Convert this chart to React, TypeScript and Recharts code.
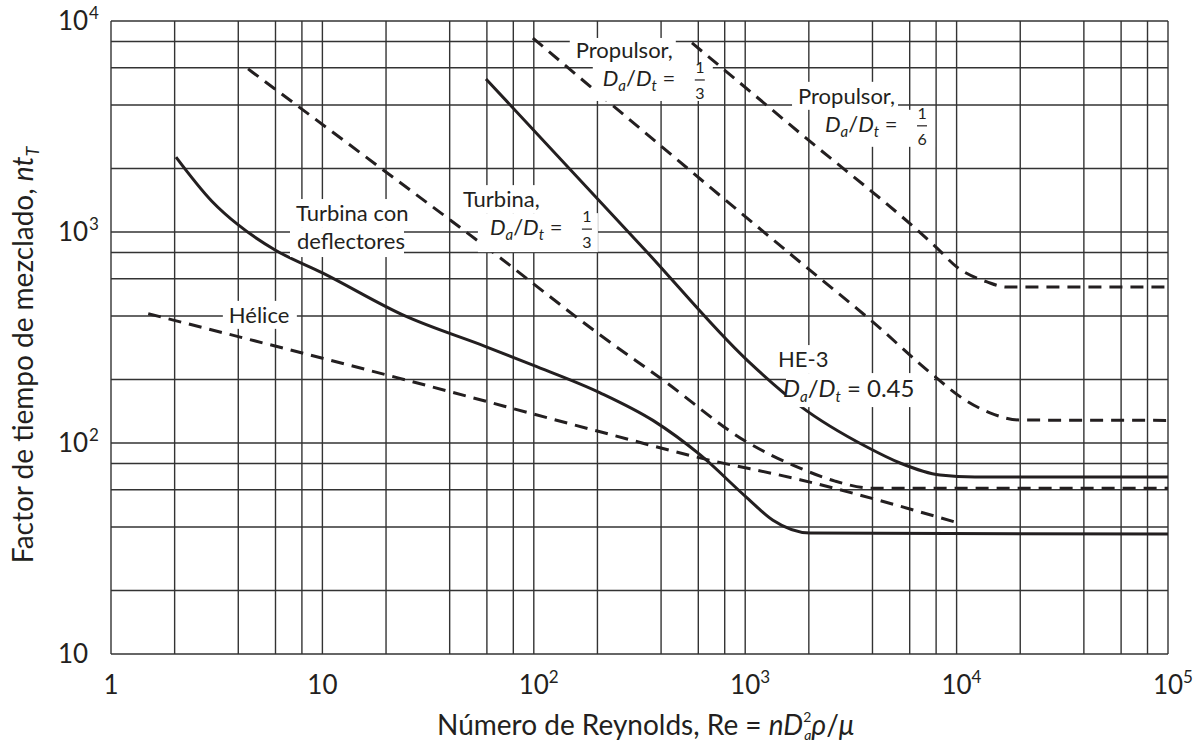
import React from "react";
import { CartesianGrid, Line, LineChart, ReferenceDot, XAxis, YAxis } from "recharts";

// grid positions (log scale, 2-4-6-8 in every decade)
const reGrid = [1, 2, 4, 6, 8, 10, 20, 40, 60, 80, 100, 200, 400, 600, 800, 1000, 2000, 4000, 6000, 8000, 10000, 20000, 40000, 60000, 80000, 100000];
const ntGrid = [10, 20, 40, 60, 80, 100, 200, 400, 600, 800, 1000, 2000, 4000, 6000, 8000, 10000];

// Hélice
const heliceRe = [1.5, 23, 206, 611, 1816, 10000];
const heliceNt = [410, 203, 113, 85, 67, 42];

// Turbina con deflectores
const deflRe = [2.03, 3, 4, 6, 10, 24.6, 60, 99, 206, 366, 611, 1020, 1353, 2028, 100000];
const deflNt = [2265, 1400, 1080, 820, 640, 400, 285, 234, 173, 128, 88, 55, 43, 37.4, 37];

// Turbina, Da/Dt = 1/3
const turbRe = [4.45, 19.4, 62, 206, 408, 1020, 1816, 2660, 4024, 100000];
const turbNt = [5930, 1968, 822, 325, 199, 101, 76, 66, 61, 61];

// HE-3, Da/Dt = 0.45
const he3Re = [59.4, 336, 1020, 1816, 3767, 5400, 8340, 12220, 100000];
const he3Nt = [5310, 822, 247, 150, 95.7, 80.4, 70.5, 69, 69];

// Propulsor, Da/Dt = 1/3
const prop3Re = [99, 1816, 4024, 7730, 10960, 14380, 19930, 100000];
const prop3Nt = [8300, 721, 374, 210, 160, 139, 128.5, 128];

// Propulsor, Da/Dt = 1/6
const prop6Re = [560, 1816, 8080, 10040, 13930, 17300, 100000];
const prop6Nt = [7870, 2943, 839, 682, 580, 548, 548];

const ink = "#231f20";
const font = "Lato, 'Open Sans', sans-serif";

const zip = (re: number[], nt: number[]) => re.map((x, i) => ({ x, y: nt[i] }));

const series = [
  { key: "helice", data: zip(heliceRe, heliceNt), dashed: true },
  { key: "defl", data: zip(deflRe, deflNt), dashed: false },
  { key: "turb", data: zip(turbRe, turbNt), dashed: true },
  { key: "he3", data: zip(he3Re, he3Nt), dashed: false },
  { key: "prop3", data: zip(prop3Re, prop3Nt), dashed: true },
  { key: "prop6", data: zip(prop6Re, prop6Nt), dashed: true },
];

const isDecade = (v: number) => {
  const e = Math.log10(v);
  return Math.abs(e - Math.round(e)) < 1e-6 ? Math.round(e) : null;
};

const XTick = (props: any) => {
  const { x, y, payload } = props;
  const n = isDecade(payload.value);
  if (n === null) return <g />;
  const base = n === 0 ? "1" : "10";
  return (
    <g fill={ink} fontFamily={font}>
      <text x={x} y={y + 40} textAnchor="middle" fontSize={26}>
        {base}
      </text>
      {n > 1 && (
        <text x={x + 15} y={y + 29} fontSize={17}>
          {n}
        </text>
      )}
    </g>
  );
};

const YTick = (props: any) => {
  const { x, y, payload } = props;
  const n = isDecade(payload.value);
  if (n === null) return <g />;
  return (
    <g fill={ink} fontFamily={font}>
      <text x={x - 53} y={y + 9} fontSize={26}>
        10
      </text>
      {n > 1 && (
        <text x={x - 22} y={y - 2} fontSize={17}>
          {n}
        </text>
      )}
    </g>
  );
};

const Ratio = ({ x, y, tail, size = 22 }: { x: number; y: number; tail?: string; size?: number }) => (
  <text x={x} y={y} fontSize={size} fill={ink} fontFamily={font}>
    <tspan fontStyle="italic">D</tspan>
    <tspan fontStyle="italic" fontSize={15} dy={5}>a</tspan>
    <tspan dy={-5}>/</tspan>
    <tspan fontStyle="italic">D</tspan>
    <tspan fontStyle="italic" fontSize={15} dy={5}>t</tspan>
    <tspan dy={-5}>{tail ? " = " + tail : " ="}</tspan>
  </text>
);

const Frac = ({ x, y, n, d }: { x: number; y: number; n: string; d: string }) => (
  <g fill={ink} fontFamily={font}>
    <text x={x} y={y - 13} textAnchor="middle" fontSize={16}>
      {n}
    </text>
    <line x1={x - 5} x2={x + 5} y1={y - 6} y2={y - 6} stroke={ink} strokeWidth={1.2} />
    <text x={x} y={y + 13} textAnchor="middle" fontSize={16}>
      {d}
    </text>
  </g>
);

const Box = ({ cx, cy, b }: { cx: number; cy: number; b: number[] }) => (
  <rect x={cx + b[0]} y={cy + b[1]} width={b[2]} height={b[3]} fill="#fff" />
);

const Plain = ({ x, y, t }: { x: number; y: number; t: string }) => (
  <text x={x} y={y} fontSize={22} fill={ink} fontFamily={font}>
    {t}
  </text>
);

// annotation anchors: left end of first text line, on its baseline
const notes = [
  {
    re: 158,
    nt: 6680,
    draw: (cx: number, cy: number) => (
      <g>
        <Box cx={cx} cy={cy} b={[-6, -20, 106, 26]} />
        <Box cx={cx} cy={cy} b={[17, 6, 120, 37]} />
        <Plain x={cx} y={cy} t="Propulsor," />
        <Ratio x={cx + 27} y={cy + 28} />
        <Frac x={cx + 124} y={cy + 28} n="1" d="3" />
      </g>
    ),
  },
  {
    re: 1778,
    nt: 4050,
    draw: (cx: number, cy: number) => (
      <g>
        <Box cx={cx} cy={cy} b={[-6, -22, 106, 28]} />
        <Box cx={cx} cy={cy} b={[20, 6, 117, 37]} />
        <Plain x={cx} y={cy} t="Propulsor," />
        <Ratio x={cx + 27} y={cy + 28} />
        <Frac x={cx + 124} y={cy + 28} n="1" d="6" />
      </g>
    ),
  },
  {
    re: 46.2,
    nt: 1312,
    draw: (cx: number, cy: number) => (
      <g>
        <Box cx={cx} cy={cy} b={[-6, -22, 88, 28]} />
        <Box cx={cx} cy={cy} b={[15, 6, 120, 39]} />
        <Plain x={cx} y={cy} t="Turbina," />
        <Ratio x={cx + 27} y={cy + 28} />
        <Frac x={cx + 124} y={cy + 28} n="1" d="3" />
      </g>
    ),
  },
  {
    re: 7.5,
    nt: 1127,
    draw: (cx: number, cy: number) => (
      <g>
        <Box cx={cx} cy={cy} b={[-6, -22, 110, 28]} />
        <Box cx={cx} cy={cy} b={[-6, 6, 114, 30]} />
        <Plain x={cx} y={cy} t="Turbina con" />
        <Plain x={cx + 1} y={cy + 28} t="deflectores" />
      </g>
    ),
  },
  {
    re: 3.61,
    nt: 371,
    draw: (cx: number, cy: number) => (
      <g>
        <Box cx={cx} cy={cy} b={[-6, -22, 74, 28]} />
        <Plain x={cx} y={cy} t="Hélice" />
      </g>
    ),
  },
  {
    re: 1429,
    nt: 229,
    draw: (cx: number, cy: number) => (
      <g>
        <Box cx={cx} cy={cy} b={[-6, -22, 54, 28]} />
        <Box cx={cx} cy={cy} b={[8, 6, 148, 34]} />
        <Plain x={cx} y={cy} t="HE-3" />
        <Ratio x={cx + 5} y={cy + 30} tail="0.45" size={24} />
      </g>
    ),
  },
];

export default function App() {
  return (
    <div style={{ position: "fixed", left: 0, top: 0, width: 1203, height: 745, background: "#fff" }}>
      <LineChart width={1203} height={745} margin={{ top: 21, right: 35, bottom: 31, left: 31 }}>
        <CartesianGrid stroke="#333" strokeWidth={1.4} />
        <XAxis
          dataKey="x"
          type="number"
          scale="log"
          domain={[1, 100000]}
          ticks={reGrid}
          interval={0}
          allowDataOverflow
          axisLine={false}
          tickLine={false}
          tickSize={0}
          tickMargin={0}
          height={60}
          tick={<XTick />}
        />
        <YAxis
          type="number"
          scale="log"
          domain={[10, 10000]}
          ticks={ntGrid}
          interval={0}
          allowDataOverflow
          axisLine={false}
          tickLine={false}
          tickSize={0}
          tickMargin={0}
          width={80}
          tick={<YTick />}
        />
        {notes.map((n, i) => (
          <ReferenceDot
            key={i}
            x={n.re}
            y={n.nt}
            r={0}
            ifOverflow="visible"
            shape={(p: any) => n.draw(p.cx, p.cy)}
          />
        ))}
        {series.map((s) => (
          <Line
            key={s.key}
            data={s.data}
            dataKey="y"
            type="monotone"
            stroke={ink}
            strokeWidth={3}
            strokeDasharray={s.dashed ? "13 8" : undefined}
            dot={false}
            activeDot={false}
            isAnimationActive={false}
          />
        ))}
      </LineChart>
      <svg width={1203} height={745} style={{ position: "absolute", left: 0, top: 0, pointerEvents: "none" }}>
        <text x={437} y={735} fontSize={28} fill={ink} fontFamily={font}>
          Número de Reynolds, Re ={" "}
          <tspan fontStyle="italic">nD</tspan>
          <tspan fontSize={14} dy={-13}>2</tspan>
          <tspan fontSize={14} fontStyle="italic" dx={-7} dy={18}>a</tspan>
          <tspan fontStyle="italic" dy={-5}>ρ</tspan>
          <tspan>/</tspan>
          <tspan fontStyle="italic">μ</tspan>
        </text>
        <text
          transform="translate(33 355) rotate(-90)"
          textAnchor="middle"
          fontSize={28}
          fill={ink}
          fontFamily={font}
        >
          Factor de tiempo de mezclado,{" "}
          <tspan fontStyle="italic">nt</tspan>
          <tspan fontStyle="italic" fontSize={18} dy={6}>T</tspan>
        </text>
      </svg>
    </div>
  );
}
